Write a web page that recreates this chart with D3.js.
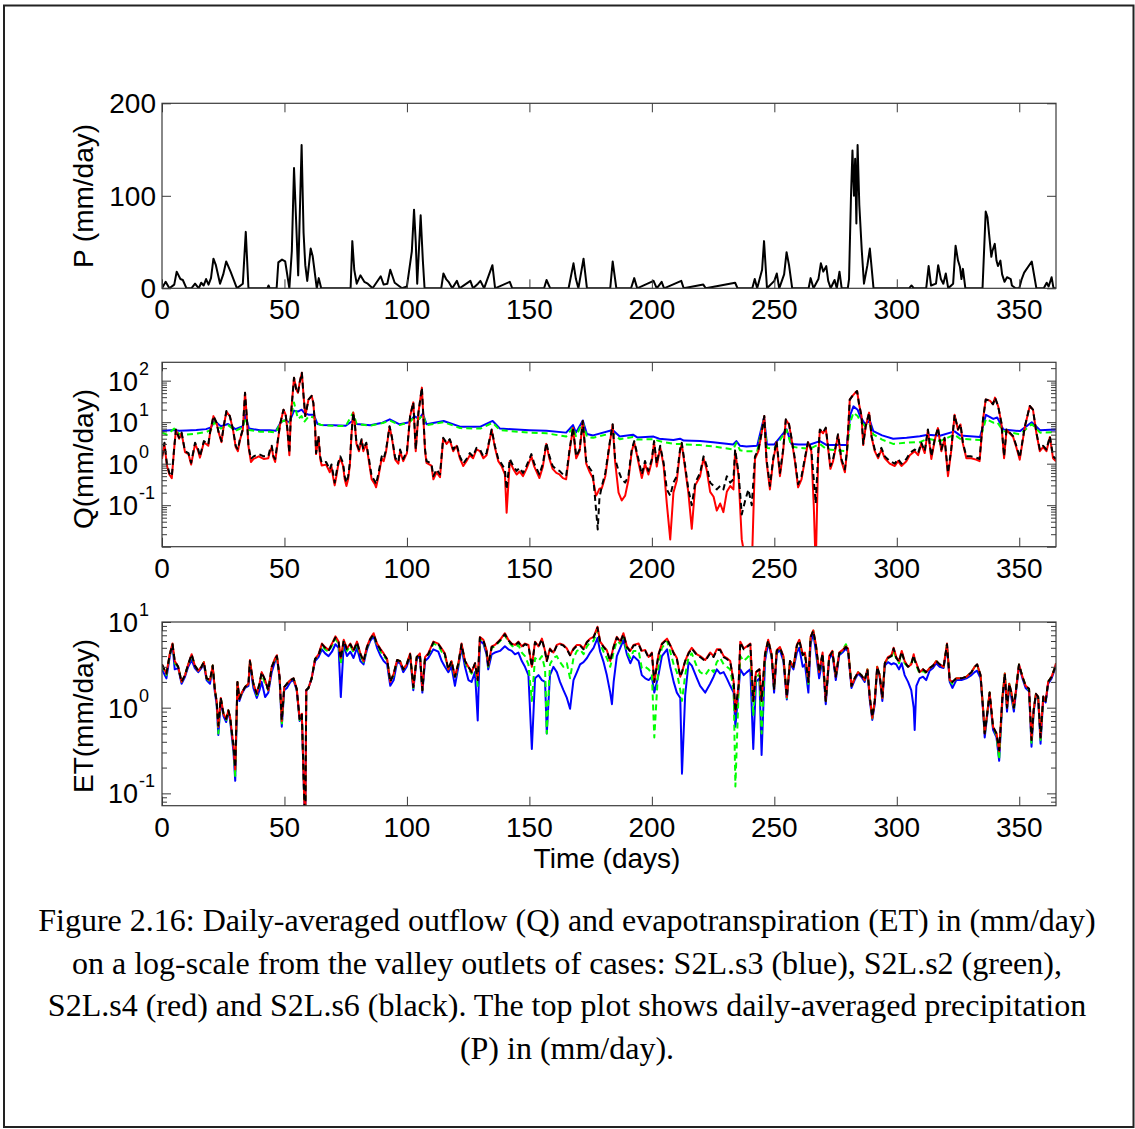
<!DOCTYPE html>
<html>
<head>
<meta charset="utf-8">
<title>Daily-averaged outflow (Q), ET and P</title>
<script src="https://d3js.org/d3.v7.min.js"></script>
<style>
  body { margin: 0; background: #fff; }
  text { font-family: "Liberation Sans", Arial, sans-serif; fill: #000; }
  .cap { font-family: "Liberation Serif", "Times New Roman", serif; }
</style>
</head>
<body>
<div id="fig"></div>
<script>
// ---- x axis ----
const xTicks = [0, 50, 100, 150, 200, 250, 300, 350];

// ---- precipitation P (mm/day) ----
const pDays = [0,1.5,3,5,6,7.5,8.5,10,12,13.5,
  15,16,17,18,19,20,21,22,23.7,25,
  26.2,28,30.6,33,34.2,35.3,43,43.5,44,46.8,
  47.5,49,50.3,52,53,53.9,54.8,55.6,57,57.8,
  58.5,59.3,60.7,61.5,63.2,64,65,77,77.7,78.5,
  79.5,81,82.6,84,86,89.3,90.5,92,93.2,95,
  96.5,98,100,102,102.9,103.6,104.2,105.6,106.5,107.2,
  114,114.9,116,117,118.5,120.4,121.5,125.9,127,129,
  130,131.5,134.9,136,142,143,156,157,158.5,166,
  168,169,170,172.1,173.5,183,184,185.5,191.5,192.8,
  194,200.7,202,204,205,212,213,221,222,234,
  235,241,242,243,245,245.8,247,250,251,252,
  254,255,256,257.3,264,264.8,266,268,269,270,
  271.2,272,273,274.6,275.5,276.6,277.5,280,280.5,281.3,
  281.9,282.5,283,283.5,284,284.7,285.7,286.6,288,289,
  290.5,305,306,307,312,313,314,316,316.9,318,
  319,320,321,323,324,325,325.8,326.4,327,328,
  335,336.3,337,338.6,339,340,340.7,341.3,342.3,343,
  344,345,346.5,347,348.5,350,351,352,355.1,357,
  360,361.2,362,363.2,364,365];
const pVals = [0,7,0,4,18,10,9,0,0,5,
  0,6,3,10,4,11,32,25,5,15,
  29,18,0,5,61,0,0,3,0,0,
  28,31,29,0,40,130,70,14,155,60,
  25,8,43,35,0,11,0,0,51,20,
  5,14,7,5,0,13,4,5,20,6,
  3,0,2,40,85,50,5,79,30,0,
  0,16,10,7,0,8,0,8,0,5,
  8,0,25,0,7,0,0,9,0,0,
  27,10,0,32,0,0,29,0,0,11,
  0,8,0,7,0,8,0,4,0,6,
  0,0,10,0,20,51,0,8,16,0,
  15,39,25,0,0,11,0,10,27,18,
  24,8,0,9,0,18,0,0,10,100,
  149,100,140,70,155,90,41,5,25,43,
  0,0,3,0,0,24,3,5,25,10,
  5,16,0,5,46,30,23,10,21,0,
  0,83,77,34,40,48,30,24,30,15,
  7,12,10,3,0,0,10,17,29,0,
  0,6,2,12,0,0];
const pTicks = [0, 100, 200];

// ---- outflow Q (mm/day): S2L.s6 (black) and S2L.s4 (red) ----
const qDays = [0,1,2,3,4,5,5.7,7,8,9.4,
  10.8,11.9,13.5,14.8,15.5,17.1,18.9,19.6,21,22.3,
  23,24.3,25.2,26.3,27.7,29,30.1,31,31.8,33,
  33.9,34.6,35.3,36.3,37.4,39.5,41.5,43.4,44.1,44.8,
  45.5,46.2,48.2,49.6,50.5,51.2,52,52.6,53.9,54.8,
  55.5,56.2,57.1,57.8,58.5,59.8,61.1,61.8,62.5,62.9,
  63.9,64.6,65.2,67,68.5,69.2,69.8,70.5,71.2,71.9,
  72.8,73.9,74.6,75.3,76,76.7,77.4,78.1,78.7,79.4,
  80.4,81.5,82.2,83.4,84.5,85.6,86.9,87.4,88.4,89.7,
  90.5,91.5,92.9,93.8,95.2,96.5,97.2,98.5,100,101.3,
  102.6,103.6,104.7,106.1,107.4,108,110,110.8,112.1,113.5,
  114.8,116.2,117.5,118.9,120.3,121.6,123,124.3,125.7,127,
  128.4,129.8,131.2,132.5,134.6,135.9,137.3,138.6,140,140.7,
  142,143.4,144.8,146,147.4,148.8,150.8,152,154.1,155.5,
  156.9,158.2,159.5,161,162.3,163.7,165,166.4,167.8,169.1,
  170.5,171.8,173.2,174.5,175.9,177.2,177.9,178.6,179.6,181,
  183,184,185,186.4,187.7,189.1,190.4,191.8,192.8,194.5,
  195.9,197.2,198.6,200,200.9,202,203.4,204.8,206.1,207.5,
  208.8,210.2,211.5,212.2,213.6,214.9,216.3,217.7,219.7,221.1,
  222.4,223.8,225.2,226.5,227.9,229.2,230.6,232,233.3,234,
  235.4,236.7,238.1,239.4,240.8,242.1,243.5,244.8,245.9,246.8,
  248.2,249.5,250.9,252.3,253.6,254.7,256,257,258.4,259.7,
  261.1,262.4,263.8,265.1,266.1,266.9,267.9,268.6,269.9,271,
  271.9,272.9,274,275.1,276,277.4,278.8,279.7,280.8,281.9,
  283,283.8,284.6,285.6,286.3,287.3,288.7,289.7,291,292.4,
  293.7,295.1,297.1,299.2,300.5,301.9,303.9,305.3,307.3,308.7,
  310,311.4,312.7,314.1,315.5,316.8,318.2,319.5,320.9,322.2,
  323.6,325,326,327,328.4,330.4,332.4,333.8,335.2,336.3,
  338,339.3,340.1,341.4,342.7,343.8,344.8,346.1,347.5,348.8,
  350.2,352.3,354.3,355.6,357,358.4,359.7,361.1,362.5,363.8,
  365];
const qBlack = [1.5,3.2,1.0,0.6,0.5,2.5,6.7,4.2,5.6,2.0,
  1.8,1.05,3.2,2.2,1.5,3.5,2.9,5.6,14,9.7,
  6.1,3.5,8,18.6,14,6.7,2.7,2.2,3.9,6.7,
  51,14,2.7,1.3,1.5,1.7,1.5,1.5,2.2,2.7,
  1.5,1.3,8.9,20,15,6.7,1.8,14,118,62,
  51,90,155,43,14,35,43,29,8,1.8,
  4.6,1.5,1.05,1.1,0.73,0.96,0.61,0.35,0.6,1.05,
  1.5,1.05,0.5,0.35,0.5,1.05,5.6,17,9.7,3.2,
  2.2,3.9,2.2,3.2,1.3,0.5,0.38,0.32,0.6,1.5,
  1.3,2.2,8,4.6,1.4,1.1,2.2,1.3,2.0,14,
  30,2.2,17,68,2.2,1.16,1.0,0.5,0.73,0.55,
  4.2,3.2,3.9,2.2,2.9,1.5,1.0,1.3,1.8,1.5,
  2.4,2.2,1.5,1.8,6.7,2.7,1.3,1.0,0.73,0.24,
  1.3,0.88,0.67,0.8,0.6,0.88,1.7,1.0,0.55,1.0,
  3.2,1.5,0.88,0.73,0.67,0.55,0.5,2.2,7.4,1.5,
  2.2,10.7,1.16,0.8,0.6,0.08,0.026,0.15,0.29,0.6,
  3.9,8.9,1.3,0.67,0.42,0.35,0.5,2.2,3.5,1.3,
  0.55,1.16,0.67,1.3,3.5,1.0,2.7,1.05,0.24,0.17,
  0.35,0.5,2.2,3.2,0.88,0.24,0.1,0.35,0.6,1.5,
  0.88,0.35,0.29,0.24,0.29,0.24,0.5,0.35,0.42,2.2,
  0.6,0.06,0.13,0.24,0.1,1.5,2.2,5.6,14,1.3,
  0.29,1.3,3.5,0.6,2.2,11.7,9,4.2,1.3,0.32,
  0.5,1.3,3.5,2.2,0.42,0.11,1.8,6.7,5.6,7.4,
  2.7,0.88,1.3,2.7,5.1,1.3,0.73,2.2,35,43,
  51,56,27,14,3,8,17,4.6,2.2,1.5,
  2.4,1.5,1.16,1.0,1.3,1.0,1.3,1.8,2.2,1.8,
  3.2,2.0,6.7,1.5,3.9,7.4,2.2,4.2,0.6,2.2,
  15,6.7,9,3.2,1.5,1.5,1.4,1.3,11.7,35,
  33,27,39,24,9.7,1.5,6.7,5.6,4.6,2.7,
  1.4,8,24.5,20,5.6,2.2,2.7,2.2,4.6,1.5,
  1.3];
const qRed = [1.3,3.0,0.9,0.55,0.45,2.4,6.5,4.0,5.4,1.9,
  1.7,0.95,3.0,2.0,1.4,3.3,2.7,5.4,14,9.5,
  6.0,3.3,8,18,14,6.5,2.5,2.0,3.7,6.5,
  51,14,2.6,1.1,1.3,1.5,1.3,1.35,2.0,2.5,
  1.4,1.1,8.7,20,15,6.5,1.6,14,118,62,
  51,90,155,43,14,35,43,29,8,1.7,
  4.4,1.3,0.9,0.95,0.62,0.85,0.5,0.3,0.5,0.9,
  1.35,0.9,0.42,0.29,0.42,0.95,5.4,17,9.5,3.0,
  2.0,3.7,2.0,3.0,1.1,0.42,0.32,0.27,0.5,1.35,
  1.15,2.0,7.8,4.4,1.25,1.0,2.0,1.15,1.8,14,
  30,2.0,17,68,2.0,1.05,0.9,0.42,0.62,0.47,
  4.0,3.0,3.7,2.0,2.7,1.35,0.88,1.15,1.6,1.35,
  2.2,2.0,1.35,1.6,6.5,2.5,1.15,0.88,0.55,0.066,
  1.15,0.75,0.55,0.65,0.5,0.75,1.5,0.85,0.45,0.85,
  3.0,1.3,0.75,0.6,0.55,0.45,0.42,2.0,7.2,1.35,
  2.0,10.5,1.0,0.65,0.45,0.17,0.2,0.25,0.26,0.5,
  3.7,8.7,1.1,0.2,0.13,0.17,0.4,2.0,3.3,1.1,
  0.45,1.0,0.55,1.15,3.3,0.85,2.5,0.9,0.11,0.015,
  0.2,0.4,2.0,3.0,0.75,0.2,0.027,0.3,0.5,1.35,
  0.7,0.21,0.16,0.074,0.11,0.068,0.21,0.29,0.24,2.0,
  0.5,0.015,0.005,0.004,0.003,1.3,2.0,5.4,14,1.15,
  0.24,1.15,3.3,0.5,2.0,11.5,8.8,4.0,1.15,0.27,
  0.42,1.15,3.3,2.0,0.1,0.003,1.5,6.5,5.4,7.2,
  2.5,0.75,1.15,2.5,4.9,1.15,0.62,2.0,35,43,
  51,56,27,14,2.8,7.8,17,4.4,2.0,1.35,
  2.2,1.35,1.0,0.88,1.15,0.88,1.15,1.6,2.0,1.6,
  3.0,1.8,6.5,1.3,3.7,7.2,2.0,4.0,0.5,2.0,
  15,6.5,8.8,3.0,1.35,1.35,1.25,1.15,11.5,35,
  33,27,39,24,9.5,1.35,6.5,5.4,4.4,2.5,
  1.25,7.8,24.5,20,5.4,2.0,2.5,2.0,4.4,1.35,
  1.15];

// ---- outflow Q: S2L.s3 (blue) and S2L.s2 (green), smoother baseflow ----
const qBaseDays = [0,2,5,7,10,14,18,20,21.5,24,
  27,30,33,34,35.5,40,44,46.5,48.5,50,
  52,53.9,55.5,57,58,60,62,63.5,65,70,
  75,78,79.5,85,90,93,97,101,103,105,
  106.5,108,115,121.7,130,135,138,150,157,165,
  167.8,169,171.8,173.5,176,184,186.9,192.3,194,200.7,
  203,208.8,211.5,213,219.7,225,233.2,234.5,236,238.6,
  243,245.8,247,250,255,257,260,264.6,268.6,271.4,
  279.6,281,282.3,284,285,287,289,290.4,294,298.5,
  304,309.4,312.7,317.6,323.6,325.8,334,336.4,339.4,341,
  343.5,350.3,355.1,358.5,364.6,365];
const qBlue = [6.1,6.3,6.5,6.2,6.3,6.5,6.8,7.5,10.7,8,
  9,6.8,8,15,7,6.4,6.4,6.2,10,11,
  10,19,18,20,17,15,15,9,8.6,8.4,
  8.2,11,9,8.4,9.7,11.7,8.9,10,14,12,
  16,8.9,10.7,7.8,7.8,10.7,7,6.4,6.2,5.6,
  8.5,5.6,11,5.2,4.8,6.5,4.5,5.0,4.3,4.5,
  4.0,3.7,4.0,3.6,3.5,3.3,2.9,3.5,2.7,2.6,
  2.7,13,2.9,2.9,6.7,3.0,2.9,2.9,3.5,2.8,
  2.8,15,24,20,14,9,11,6.1,4.8,4.0,
  4.2,4.6,5,4.7,6,4.8,4.4,15,12,13,
  6.7,6.1,10,6.4,6.7,6.5];
const qGreen = [5.6,5.0,7.0,5.2,5.0,5.3,5.8,6.5,10,7,
  8.5,6.2,7.5,13,6.5,5.9,5.9,5.6,10,11,
  9,30,12,14,10,14,13,9.5,8.5,8.2,
  8.0,17,9,8.2,9.5,11,8.5,10,13,12,
  15,8.5,10,7.2,7.0,9.7,6.4,5.6,5.4,4.5,
  7.5,4.6,10,4.4,4.2,5.5,3.9,4.4,3.8,3.9,
  3.5,3.0,3.0,2.9,2.8,2.6,2.2,3.2,2.1,2.0,
  2.0,12,2.4,2.3,6.5,2.6,2.4,2.3,3.0,2.2,
  2.0,10,17,14,11,8,9,5.1,3.8,3.0,
  3.2,3.3,4,3.5,5,4.0,3.7,12,9.7,10,
  6.1,5.1,9,5.6,5.8,5.7];
const qMajor = [0.1, 1, 10, 100];
const qMajorExp = ["-1", "0", "1", "2"];

// ---- evapotranspiration ET (mm/day) ----
const etDays = [0,1.8,3.2,4.3,5.2,6.6,8,9.4,10.7,12.1,
  13.4,14.8,16.1,17.1,18.2,19.6,20.7,21.6,22.3,23,
  24,25.1,26.2,27.1,27.8,29.2,29.9,30.8,31.6,32.6,
  33.9,35.3,35.9,37.3,38.7,39.8,40.7,42.1,43.4,44.8,
  46.2,46.9,48,48.9,49.9,51,52.4,53.7,55,56.2,
  57.1,58,58.5,58.9,59.8,61.1,62.5,63.9,65.3,66.6,
  68,69.4,70.8,72.1,73,74.2,75.5,76.9,78.2,79.6,
  81,82.3,83.7,85,86.4,87.8,89.1,90.5,91.9,93.2,
  94.6,96,97.2,98.5,99.9,101.3,102.6,104,105.3,106.3,
  107.4,108.7,110.8,112.8,114.2,115.5,116.9,118.2,119.6,121,
  122.3,123.7,125.1,126.4,127.8,128.9,129.8,131.2,132.5,133.2,
  134.6,135.9,138,140,141.4,142.8,144.1,145.5,146.9,148.2,
  149.6,151,152.3,153.7,155.1,156.4,157.1,158.4,159.8,161.2,
  162.5,163.9,165.3,166.6,168,169.4,170.7,172.1,173.5,174.8,
  176.2,177.8,178.9,180.3,181.6,183,183.7,184.4,185.7,187.1,
  188.4,189.8,191.2,192.5,194.6,195.9,197.3,198.7,200,201,
  202.7,204.1,206.2,207.5,208.9,210.2,211.6,212.3,213.6,215,
  216.3,218.4,219.7,221.8,223.8,225.2,226.5,227.9,229.3,230.6,
  232,233.4,234.1,235.4,236.1,237.5,238.8,240.2,241.4,242.5,
  243.9,244.8,246.2,247.5,248.9,249.9,251,252.3,253.7,255.1,
  256.4,257.8,259.2,260.2,261.6,262.5,263.9,264.8,265.9,267,
  268.3,269.7,271,272.4,273.7,275.1,276.5,277.8,279.2,280.1,
  281.5,282.8,284.2,285.5,286.9,288,289,290,291,292,
  293,294.1,295.1,296.4,297.8,298.7,299.8,300.9,302,303.2,
  304.6,305.9,306.9,307.3,308,309.3,310.7,312,313.4,314.8,
  316.1,317.5,319.1,320.5,321.6,322.7,324.3,326.4,328.4,330.5,
  331.8,332.8,334.2,335.2,335.9,336.9,337.9,339.3,340.7,341.8,
  343.1,344.1,345,345.9,346.8,347.8,348.8,349.9,351.3,352.6,
  354,355,355.9,356.8,357.7,358.7,359.8,360.8,361.8,363.2,
  364.5,365];
const etBlack = [3.2,2.5,4.2,5.5,3.5,3.0,2.0,2.4,3.2,4.2,
  3.1,2.7,3.0,3.4,2.2,2.1,3.1,1.6,1.2,0.62,
  1.3,0.85,0.74,0.93,0.78,0.36,0.2,2.0,1.27,1.5,
  1.74,1.9,3.5,1.9,1.45,1.9,2.6,2.1,1.6,3.0,
  3.7,4.0,2.3,0.71,1.74,1.9,2.1,2.2,1.66,0.74,
  0.85,0.1,0.04,1.6,1.7,2.2,3.7,4.1,5.5,5.0,
  4.6,5.5,6.6,5.8,3.7,6.1,4.8,5.5,4.6,5.8,
  4.2,3.5,5.1,6.3,7.2,5.5,4.8,4.2,3.7,2.0,
  2.5,3.6,3.5,2.8,3.2,4.2,1.74,3.9,4.2,1.6,
  3.9,4.2,5.8,5.5,4.8,4.2,2.8,3.5,2.3,3.3,
  5.5,3.5,3.0,2.6,3.3,2.1,6.6,6.1,4.6,3.1,
  5.1,5.3,6.1,7.2,6.1,5.5,5.3,5.8,5.1,5.5,
  5.3,3.0,5.8,5.1,6.3,4.5,3.5,4.8,4.3,5.3,
  5.5,5.3,4.8,4.1,4.8,5.3,5.3,4.8,5.8,6.3,
  6.6,8.6,5.8,5.1,4.6,3.5,4.2,5.1,6.6,5.8,
  7.2,5.1,4.5,5.3,5.5,4.5,4.6,3.8,4.3,2.0,
  4.1,5.5,6.3,5.3,4.3,3.7,2.3,2.6,3.5,4.3,
  4.9,4.1,3.9,3.5,4.3,3.9,4.7,4.7,3.9,3.7,
  3.4,2.0,0.9,1.8,5.8,4.8,5.1,5.5,1.2,2.6,
  2.8,1.2,4.2,6.1,4.1,1.66,4.6,5.0,3.9,1.33,
  3.5,3.0,5.3,6.1,4.1,4.3,2.0,6.6,7.9,5.3,
  2.6,4.3,1.2,3.9,4.5,2.3,4.3,4.6,5.1,4.8,
  1.8,2.2,2.6,2.4,2.1,2.8,1.3,0.78,1.2,3.0,
  2.4,1.3,3.3,3.8,4.0,4.9,3.8,3.4,4.5,3.4,
  3.0,3.2,4.1,3.6,3.2,2.6,2.8,2.6,2.9,3.1,
  3.5,3.2,3.0,5.5,2.1,2.0,2.2,2.2,2.3,2.6,
  3.0,3.2,2.4,1.0,0.5,0.85,1.5,0.6,0.5,0.32,
  1.3,2.5,1.0,1.9,1.5,1.0,1.75,3.2,2.3,1.8,
  1.66,0.42,0.95,1.45,1.35,0.45,1.35,1.2,2.0,2.3,
  2.9,3.3];
const etRed = [3.2,2.5,4.3,5.6,3.5,3.0,2.0,2.4,3.2,4.2,
  3.1,2.7,3.0,3.4,2.2,2.1,3.1,1.6,1.2,0.6,
  1.3,0.85,0.74,0.93,0.78,0.35,0.19,2.0,1.27,1.5,
  1.74,1.9,3.6,1.9,1.45,1.9,2.6,2.1,1.6,3.0,
  3.8,4.1,2.3,0.7,1.74,1.9,2.1,2.2,1.66,0.74,
  0.85,0.1,0.04,1.6,1.7,2.2,3.7,4.2,5.6,5.1,
  4.7,5.6,6.8,5.9,3.8,6.2,4.9,5.6,4.7,5.9,
  4.3,3.5,5.2,6.4,7.4,5.6,4.9,4.3,3.7,2.0,
  2.5,3.6,3.5,2.8,3.2,4.3,1.74,3.9,4.3,1.6,
  3.9,4.3,5.9,5.6,4.9,4.3,2.8,3.5,2.3,3.3,
  5.6,3.5,3.0,2.6,3.3,2.1,6.7,6.2,4.7,3.1,
  5.2,5.4,6.2,7.4,6.2,5.6,5.4,5.9,5.2,5.6,
  5.4,3.0,5.9,5.2,6.4,4.6,3.5,4.9,4.4,5.4,
  5.6,5.4,4.9,4.1,4.9,5.4,5.4,4.9,5.9,6.4,
  6.7,8.8,5.9,5.2,4.7,3.5,4.3,5.2,6.7,5.9,
  7.4,5.2,4.6,5.4,5.6,4.6,4.7,3.9,4.4,2.0,
  4.2,5.6,6.4,5.4,4.4,3.8,2.3,2.6,3.5,4.4,
  5.0,4.2,4.0,3.6,4.4,4.0,4.8,4.8,4.0,3.8,
  3.5,2.0,0.9,1.8,5.9,4.9,5.2,5.6,1.2,2.6,
  2.8,1.2,4.3,6.2,4.2,1.66,4.7,5.1,4.0,1.33,
  3.5,3.0,5.4,6.2,4.2,4.4,2.0,6.7,8.0,5.4,
  2.6,4.4,1.2,4.0,4.6,2.3,4.4,4.7,5.2,4.9,
  1.8,2.2,2.6,2.4,2.1,2.8,1.3,0.76,1.2,3.0,
  2.4,1.3,3.3,3.9,4.1,5.0,3.9,3.5,4.6,3.5,
  3.0,3.2,4.2,3.7,3.3,2.6,2.8,2.6,2.9,3.1,
  3.5,3.2,3.0,5.6,2.1,2.0,2.2,2.2,2.3,2.6,
  3.0,3.2,2.4,1.0,0.5,0.85,1.5,0.6,0.5,0.31,
  1.3,2.5,1.0,1.9,1.5,1.0,1.75,3.2,2.3,1.8,
  1.66,0.42,0.95,1.45,1.35,0.45,1.35,1.2,2.0,2.3,
  2.9,3.3];
const etBlue = [2.8,2.2,4.0,5.3,2.8,2.9,1.9,2.3,3.0,3.6,
  2.9,2.6,2.9,3.2,2.1,1.9,3.0,1.5,1.1,0.48,
  1.2,0.8,0.68,0.9,0.72,0.3,0.14,1.9,1.2,1.45,
  1.7,1.8,3.3,1.7,1.3,1.6,2.0,1.33,1.5,2.6,
  3.5,3.9,2.2,0.6,1.6,1.7,2.0,2.1,1.6,0.7,
  0.8,0.1,0.04,1.6,1.7,2.2,3.5,3.9,4.8,4.3,
  4.0,4.5,5.5,5.0,1.33,5.5,4.0,4.5,3.8,5.0,
  3.5,3.2,4.8,6.0,6.8,5.0,4.1,3.5,3.2,1.8,
  2.1,3.4,3.3,2.6,3.0,4.0,1.6,3.7,4.0,1.5,
  3.5,3.8,4.8,4.5,3.5,3.0,2.6,3.0,1.8,3.0,
  5.0,3.0,2.1,2.0,2.6,0.71,6.0,5.6,4.2,2.8,
  4.2,4.4,4.6,5.2,4.8,4.6,4.2,4.4,3.5,3.0,
  2.4,0.33,2.2,2.4,2.1,2.0,0.5,2.4,3.0,2.6,
  2.0,1.6,1.3,0.97,2.1,2.6,3.2,3.4,3.8,4.4,
  5.0,6.5,4.5,3.4,2.4,1.5,1.1,2.0,4.0,5.0,
  6.2,4.2,3.3,4.0,3.5,2.4,2.2,2.1,2.3,1.5,
  2.4,4.0,4.8,3.0,2.0,1.5,1.3,0.17,1.4,3.4,
  3.1,2.2,1.8,1.5,1.9,2.3,2.8,2.5,2.6,2.2,
  1.8,1.5,0.6,1.6,2.8,2.4,2.6,2.8,0.33,2.0,
  2.2,0.28,3.5,5.8,3.9,1.5,4.3,4.7,3.5,1.25,
  3.3,2.8,4.4,5.0,3.0,3.2,1.5,5.5,7.5,4.4,
  2.2,3.7,1.1,3.7,4.3,2.1,4.1,4.4,4.9,4.5,
  1.7,2.1,2.5,2.3,2.0,2.7,1.2,0.72,1.1,2.9,
  2.3,1.2,3.1,3.4,3.2,3.3,3.2,2.8,3.3,2.4,
  2.0,1.6,1.0,0.55,1.8,2.2,2.3,2.1,2.7,2.9,
  3.3,3.0,2.9,5.2,2.0,1.7,2.1,2.1,2.2,2.4,
  2.6,2.7,2.2,0.95,0.45,0.8,1.4,0.55,0.45,0.24,
  1.2,2.4,0.9,1.8,1.3,0.9,1.65,3.1,2.2,1.7,
  1.55,0.35,0.9,1.4,1.3,0.38,1.3,1.15,1.9,2.2,
  2.8,3.2];
const etGreen = [3.1,2.4,4.2,5.5,3.3,3.0,2.0,2.4,3.2,4.0,
  3.1,2.7,3.0,3.4,2.2,2.0,3.1,1.6,1.2,0.5,
  1.3,0.85,0.72,0.93,0.75,0.33,0.16,2.0,1.25,1.5,
  1.74,1.9,3.5,1.9,1.4,1.85,2.5,1.9,1.6,3.0,
  3.7,4.0,2.3,0.62,1.7,1.9,2.1,2.2,1.66,0.72,
  0.85,0.1,0.04,1.6,1.7,2.2,3.7,4.1,5.3,4.8,
  4.5,5.3,6.4,5.6,3.2,6.0,4.6,5.3,4.4,5.6,
  4.0,3.4,5.0,6.3,7.1,5.4,4.6,4.0,3.6,2.0,
  2.4,3.6,3.5,2.8,3.2,4.2,1.7,3.9,4.2,1.6,
  3.8,4.1,5.6,5.3,4.5,4.0,2.8,3.4,2.2,3.2,
  5.4,3.4,2.8,2.5,3.2,1.8,6.5,6.0,4.5,3.0,
  5.0,5.2,6.0,7.0,5.9,5.3,5.0,5.4,4.4,4.0,
  3.2,1.2,3.8,3.5,4.0,2.8,0.5,3.2,3.8,4.0,
  3.4,3.0,3.3,2.2,3.8,4.6,4.8,4.2,5.2,5.8,
  6.0,8.0,5.5,4.5,3.8,3.0,3.6,4.5,6.0,5.6,
  7.0,4.5,3.8,4.6,4.6,2.9,3.0,2.8,2.5,0.45,
  3.2,5.0,6.0,4.5,3.2,2.6,1.6,1.2,2.4,3.9,
  4.3,3.0,2.6,2.4,2.9,2.6,3.4,3.8,3.2,3.0,
  2.8,1.6,0.12,1.5,4.0,3.5,3.8,4.2,0.8,2.2,
  2.5,0.5,4.0,6.1,4.1,1.6,4.6,5.0,3.9,1.3,
  3.5,3.0,5.2,6.0,4.0,4.2,1.9,6.5,7.9,5.2,
  2.5,4.2,1.2,3.9,4.5,2.3,4.3,4.6,5.5,4.8,
  1.8,2.2,2.6,2.4,2.1,2.8,1.3,0.75,1.2,3.0,
  2.4,1.3,3.3,3.8,3.9,4.7,3.7,3.3,4.3,3.3,
  3.0,3.3,4.0,3.5,3.1,2.5,2.7,2.5,2.9,3.1,
  3.5,3.2,3.0,5.5,2.1,1.9,2.2,2.2,2.3,2.6,
  3.0,3.1,2.4,1.0,0.48,0.85,1.5,0.58,0.48,0.25,
  1.3,2.5,1.0,1.9,1.45,0.95,1.75,3.2,2.3,1.8,
  1.6,0.38,0.95,1.45,1.35,0.42,1.35,1.2,2.0,2.3,
  2.9,3.3];
const etMajor = [0.1, 1, 10];
const etMajorExp = ["-1", "0", "1"];

const captionLines = [
  "Figure 2.16: Daily-averaged outflow (Q) and evapotranspiration (ET) in (mm/day)",
  "on a log-scale from the valley outlets of cases: S2L.s3 (blue), S2L.s2 (green),",
  "S2L.s4 (red) and S2L.s6 (black). The top plot shows daily-averaged precipitation",
  "(P) in (mm/day)."
];

// ---------------------------------------------------------------
const W = 1135, H = 1129;
const svg = d3.select("#fig").append("svg")
  .attr("width", W).attr("height", H);

// outer frame of the figure
svg.append("rect")
  .attr("x", 4).attr("y", 5.5).attr("width", 1129.5).attr("height", 1121.5)
  .attr("fill", "none").attr("stroke", "#222").attr("stroke-width", 2);

const x = d3.scaleLinear().domain([0, 365]).range([162, 1056]);
const axisCol = "#3a3a3a";

function makePanel(id, y, top, bottom) {
  const g = svg.append("g");
  g.append("clipPath").attr("id", id)
    .append("rect").attr("x", 162).attr("y", top)
    .attr("width", 1056 - 162).attr("height", bottom - top);
  g.append("rect").attr("x", 162).attr("y", top)
    .attr("width", 1056 - 162).attr("height", bottom - top)
    .attr("fill", "#fff");
  return g;
}

function drawSeries(g, id, days, vals, y, color, dash) {
  const idx = d3.range(days.length);
  const line = d3.line().x(i => x(days[i])).y(i => y(vals[i]));
  g.append("path")
    .attr("clip-path", `url(#${id})`)
    .attr("d", line(idx))
    .attr("fill", "none")
    .attr("stroke", color)
    .attr("stroke-width", 2)
    .attr("stroke-linejoin", "round")
    .attr("stroke-dasharray", dash || null);
}

function styleAxis(sel) {
  sel.select(".domain").remove();
  sel.selectAll("line").attr("stroke", axisCol).attr("stroke-width", 1);
}

function drawFrame(g, y, top, bottom, yMajor, yMinor) {
  // x ticks, bottom and top, pointing inward
  g.append("g").attr("transform", `translate(0,${bottom})`)
    .call(d3.axisBottom(x).tickValues(xTicks).tickSize(-9).tickFormat(""))
    .call(styleAxis);
  g.append("g").attr("transform", `translate(0,${top})`)
    .call(d3.axisTop(x).tickValues(xTicks).tickSize(-9).tickFormat(""))
    .call(styleAxis);
  g.append("g").attr("transform", "translate(162,0)")
    .call(d3.axisLeft(y).tickValues(yMajor).tickSize(-9).tickFormat(""))
    .call(styleAxis);
  g.append("g").attr("transform", "translate(1056,0)")
    .call(d3.axisRight(y).tickValues(yMajor).tickSize(-9).tickFormat(""))
    .call(styleAxis);
  if (yMinor) {
    g.append("g").attr("transform", "translate(162,0)")
      .call(d3.axisLeft(y).tickValues(yMinor).tickSize(-5).tickFormat(""))
      .call(styleAxis);
    g.append("g").attr("transform", "translate(1056,0)")
      .call(d3.axisRight(y).tickValues(yMinor).tickSize(-5).tickFormat(""))
      .call(styleAxis);
  }
  g.append("rect").attr("x", 162).attr("y", top)
    .attr("width", 1056 - 162).attr("height", bottom - top)
    .attr("fill", "none").attr("stroke", axisCol).attr("stroke-width", 1.2);
  // x tick labels
  g.selectAll(".xl").data(xTicks).join("text")
    .attr("x", d => x(d)).attr("y", bottom + 31)
    .attr("text-anchor", "middle").attr("font-size", 28)
    .text(d => d);
}

function logLabels(g, y, vals, exps) {
  vals.forEach((v, i) => {
    const ty = y(v);
    g.append("text").attr("x", 108).attr("y", ty + 10)
      .attr("font-size", 27).text("10");
    g.append("text").attr("x", 139).attr("y", ty - 6)
      .attr("font-size", 18).text(exps[i]);
  });
}

function minorTicks(domain) {
  const out = [];
  for (let e = -3; e <= 3; e++) {
    for (let k = 2; k <= 9; k++) {
      const v = k * Math.pow(10, e);
      if (v > domain[0] && v < domain[1]) out.push(v);
    }
  }
  return out;
}

function yLabel(text, cy) {
  svg.append("text")
    .attr("transform", `translate(93,${cy}) rotate(-90)`)
    .attr("text-anchor", "middle").attr("font-size", 28)
    .text(text);
}

// ---- panel 1: P ----
{
  const top = 103.3, bottom = 288.3;
  const y = d3.scaleLinear().domain([0, 200]).range([bottom, top]);
  const g = makePanel("clipP", y, top, bottom);
  drawSeries(g, "clipP", pDays, pVals, y, "#000");
  drawFrame(g, y, top, bottom, pTicks, null);
  g.selectAll(".yl").data(pTicks).join("text")
    .attr("x", 156).attr("y", d => y(d) + 10)
    .attr("text-anchor", "end").attr("font-size", 28)
    .text(d => d);
  yLabel("P (mm/day)", 196);
}

// ---- panel 2: Q ----
{
  const top = 362.3, bottom = 546.7;
  const dom = [0.01, 277];
  const y = d3.scaleLog().domain(dom).range([bottom, top]);
  const g = makePanel("clipQ", y, top, bottom);
  drawSeries(g, "clipQ", qBaseDays, qBlue, y, "#0000ff");
  drawSeries(g, "clipQ", qBaseDays, qGreen, y, "#00ff00", "6,4");
  drawSeries(g, "clipQ", qDays, qRed, y, "#ff0000");
  drawSeries(g, "clipQ", qDays, qBlack, y, "#000", "6,4");
  drawFrame(g, y, top, bottom, [0.01].concat(qMajor), minorTicks(dom));
  logLabels(g, y, qMajor, qMajorExp);
  yLabel("Q(mm/day)", 459);
}

// ---- panel 3: ET ----
{
  const top = 622, bottom = 805.7;
  const dom = [0.0718, 10];
  const y = d3.scaleLog().domain(dom).range([bottom, top]);
  const g = makePanel("clipE", y, top, bottom);
  drawSeries(g, "clipE", etDays, etBlue, y, "#0000ff");
  drawSeries(g, "clipE", etDays, etGreen, y, "#00ff00", "6,4");
  drawSeries(g, "clipE", etDays, etRed, y, "#ff0000");
  drawSeries(g, "clipE", etDays, etBlack, y, "#000", "6,4");
  drawFrame(g, y, top, bottom, etMajor, minorTicks(dom));
  logLabels(g, y, etMajor, etMajorExp);
  yLabel("ET(mm/day)", 716);
  svg.append("text").attr("x", 607).attr("y", 868)
    .attr("text-anchor", "middle").attr("font-size", 28)
    .text("Time (days)");
}

// ---- caption ----
svg.selectAll(".capline").data(captionLines).join("text")
  .attr("class", "cap")
  .attr("x", 567).attr("y", (d, i) => 931 + i * 42.5)
  .attr("text-anchor", "middle").attr("font-size", 32)
  .text(d => d);

[["p", pDays, pVals], ["qk", qDays, qBlack], ["qr", qDays, qRed],
 ["qb", qBaseDays, qBlue], ["qg", qBaseDays, qGreen],
 ["ek", etDays, etBlack], ["er", etDays, etRed], ["eb", etDays, etBlue], ["eg", etDays, etGreen]]
  .forEach(([n, a, b]) => { if (a.length !== b.length) console.error("length mismatch", n, a.length, b.length); });
</script>
</body>
</html>
